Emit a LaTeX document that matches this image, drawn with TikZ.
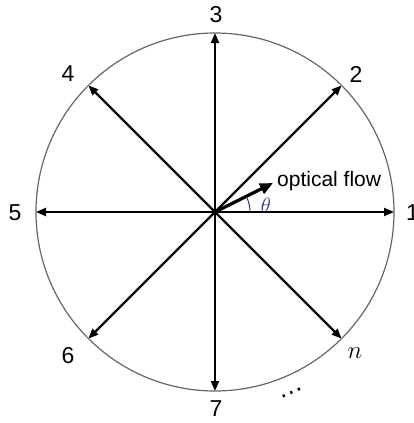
\documentclass[tikz,border=0pt]{standalone}
\usepackage{fontspec}
\setmainfont{Liberation Sans}
\usetikzlibrary{arrows.meta,calc}
\definecolor{thetacol}{RGB}{45,55,120}
\begin{document}
\begin{tikzpicture}[x=1pt,y=1pt,
  dirarrow/.style={line width=2.2pt,-{Triangle[length=10pt,width=8pt]}},
  flowarrow/.style={line width=3.2pt,-{Triangle[length=13pt,width=11pt]}},
  lab/.style={font=\fontsize{23}{23}\selectfont, inner sep=0pt},
  rim/.style={draw=black!60, line width=1.2pt}]
\useasboundingbox (0,0) rectangle (414,-423);
\coordinate (O) at (215,-212);
\draw[rim] (O) circle (179);
\foreach \a/\n in {0/1,45/2,90/3,135/4,180/5,225/6,270/7,315/8}
  \coordinate (p\n) at ($(O)+(\a:179)$);
\foreach \n in {1,...,8} \draw[dirarrow] (O) -- (p\n);
\node[lab, anchor=west] (l1) at (406,-213) {1};
\node[lab] (l2) at (356,-74) {2};
\node[lab] (l3) at (216,-15) {3};
\node[lab] (l4) at (68,-74) {4};
\node[lab] (l5) at (15,-213) {5};
\node[lab] (l6) at (68,-356) {6};
\node[lab] (l7) at (216,-409) {7};
\node[font=\fontsize{27}{27}\selectfont, inner sep=0pt] (ln) at (355,-353) {$n$};
\node[font=\fontsize{26}{26}\selectfont, inner sep=0pt, rotate=24] (ldots) at (292,-393) {…};
\coordinate (F) at (273,-183);
\draw[flowarrow] (O) -- (F);
\node[font=\fontsize{21}{21}\selectfont, anchor=west, inner sep=0pt] (lf) at (277,-181) {optical flow};
\draw[thetacol, line width=1pt] ($(O)+(35,0)$) arc (0:26:35);
\node[thetacol, font=\fontsize{21}{21}\selectfont, inner sep=0pt] (lt) at (266,-205) {$\theta$};
\end{tikzpicture}
\end{document}
